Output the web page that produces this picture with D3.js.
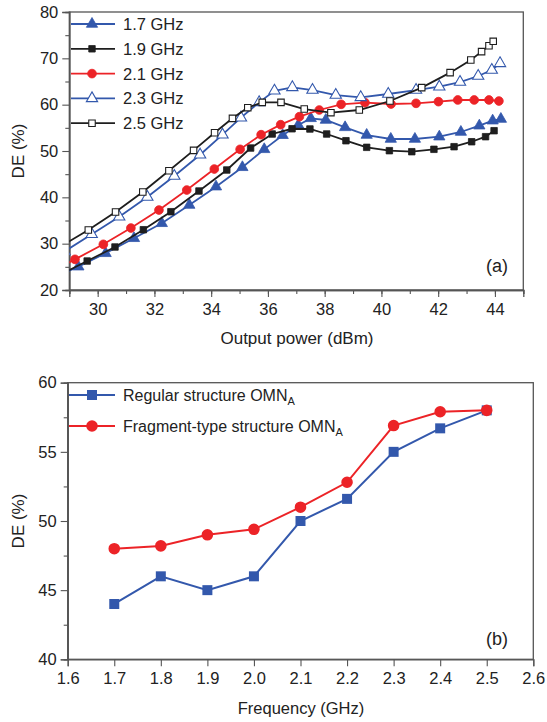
<!DOCTYPE html>
<html>
<head>
<meta charset="utf-8">
<script src="https://cdn.jsdelivr.net/npm/d3@7"></script>
<style>
	body { margin: 0; background: #fff; }
	svg { display: block; font-family: "Liberation Sans", Arial, sans-serif; }
	text { fill: #222; }
</style>
</head>
<body>
<div id="chart"></div>
<script>
//////////////////////////////
// DATA
//////////////////////////////

// (a) DE vs output power, [dBm, %]
const de17 = [[28.35,22.4],[29.32,25.03],[30.28,27.92],[31.28,31.16],[32.26,34.4],[33.23,38.34],[34.17,42.3],[35.1,46.48],[35.87,50.36],[36.52,53.4],[37.07,55.6],[37.51,57.05],[38.04,56.69],[38.72,55.1],[39.48,53.45],[40.33,52.59],[41.18,52.59],[42.04,53.09],[42.8,54.1],[43.45,55.46],[43.92,56.54],[44.21,56.9]]
const de19 = [[28.65,23.2],[29.63,26.25],[30.61,29.28],[31.61,33.01],[32.58,36.9],[33.57,41.36],[34.55,45.9],[35.39,50.64],[36.15,53.67],[36.85,54.8],[37.48,54.75],[38.07,53.67],[38.75,52.22],[39.48,50.79],[40.28,50.07],[41.07,49.85],[41.85,50.36],[42.56,50.93],[43.18,52.0],[43.67,53.09],[43.97,54.38]]
const de21 = [[28.22,23.5],[29.2,26.62],[30.2,29.86],[31.17,33.38],[32.16,37.26],[33.14,41.58],[34.11,46.11],[35.02,50.36],[35.76,53.52],[36.45,55.68],[37.11,57.41],[37.81,58.85],[38.58,60.08],[39.42,60.43],[40.34,60.14],[41.22,60.29],[42.01,60.65],[42.69,61.01],[43.27,61.01],[43.79,61.01],[44.14,60.79]]
const de23 = [[28.83,28.3],[29.79,32.02],[30.76,35.82],[31.75,40.07],[32.7,44.6],[33.61,49.2],[34.4,53.52],[35.05,57.19],[35.69,60.5],[36.23,63.0],[36.86,63.74],[37.57,63.16],[38.39,62.08],[39.27,61.58],[40.24,62.3],[41.22,63.16],[42.04,63.88],[42.77,64.89],[43.41,66.19],[43.89,67.48],[44.18,68.92]]
const de25 = [[28.75,29.6],[29.67,32.95],[30.63,36.83],[31.59,41.15],[32.51,45.75],[33.38,50.14],[34.12,53.95],[34.75,57.05],[35.29,59.35],[35.8,60.5],[36.46,60.5],[37.28,59.06],[38.22,58.27],[39.22,58.85],[40.3,60.79],[41.42,63.67],[42.42,66.91],[43.15,69.64],[43.53,71.44],[43.79,72.73],[43.94,73.67]]
const bandLabels = ["1.7 GHz", "1.9 GHz", "2.1 GHz", "2.3 GHz", "2.5 GHz"]

// (b) DE vs frequency
const freqs = [1.7, 1.8, 1.9, 2.0, 2.1, 2.2, 2.3, 2.4, 2.5]
const deRegular = [44, 46, 45, 46, 50, 51.6, 55, 56.7, 58]
const deFragment = [48, 48.2, 49, 49.4, 51, 52.8, 56.9, 57.9, 58]

//////////////////////////////
// SETUP
//////////////////////////////

const BLUE = "#3358ac"
const RED = "#ec2327"
const BLACK = "#1e1e1e"
const AXIS = "#555"
const TICK_FONT = 16.5

const svg = d3.select("#chart").append("svg").attr("width", 547).attr("height", 722)

const styleAxis = (g) => {
	g.selectAll(".domain").attr("stroke", AXIS).attr("stroke-width", 1.3)
	g.selectAll(".tick line").attr("stroke", AXIS).attr("stroke-width", 1.1)
	g.selectAll(".tick text").attr("font-size", TICK_FONT).attr("fill", "#222")
		.attr("font-family", '"Liberation Sans", Arial, sans-serif')
}

const frame = (x0, y0, x1, y1) => {
	svg.append("rect").attr("x", x0).attr("y", y0).attr("width", x1 - x0).attr("height", y1 - y0)
		.attr("fill", "none").attr("stroke", AXIS).attr("stroke-width", 1.3)
}

//////////////////////////////
// CHART (a)
//////////////////////////////

const chartA = () => {
	let x = d3.scaleLinear().domain([29, 45]).range([69.3, 523.3])
	let y = d3.scaleLinear().domain([20, 80]).range([290, 12])

	svg.append("defs").append("clipPath").attr("id", "clipA")
		.append("rect").attr("x", 69.3).attr("y", 12).attr("width", 454).attr("height", 278)

	frame(69.3, 12, 523.3, 290)

	let xMinor = svg.append("g").attr("transform", "translate(0,290)")
		.call(d3.axisBottom(x).tickValues(d3.range(29, 46, 1)).tickSize(4).tickFormat(""))
	let xAxis = svg.append("g").attr("transform", "translate(0,290)")
		.call(d3.axisBottom(x).tickValues(d3.range(30, 45, 2)).tickSize(7).tickPadding(6).tickFormat(d3.format("d")))
	let yMinor = svg.append("g").attr("transform", "translate(69.3,0)")
		.call(d3.axisLeft(y).tickValues(d3.range(25, 80, 10)).tickSize(4).tickFormat(""))
	let yAxis = svg.append("g").attr("transform", "translate(69.3,0)")
		.call(d3.axisLeft(y).tickValues(d3.range(20, 81, 10)).tickSize(7).tickPadding(4).tickFormat(d3.format("d")))
	;[xMinor, xAxis, yMinor, yAxis].forEach(styleAxis)

	svg.append("text").attr("x", 297).attr("y", 344).attr("text-anchor", "middle")
		.attr("font-size", 17).text("Output power (dBm)")
	svg.append("text").attr("transform", "translate(24,151) rotate(-90)").attr("text-anchor", "middle")
		.attr("font-size", 17).text("DE (%)")
	svg.append("text").attr("x", 497).attr("y", 272).attr("text-anchor", "middle")
		.attr("font-size", 18).text("(a)")

	let series = [
		{ data: de17, color: BLUE, type: d3.symbolTriangle, size: 55, fill: true },
		{ data: de19, color: BLACK, type: d3.symbolSquare, size: 42, fill: true },
		{ data: de21, color: RED, type: d3.symbolCircle, size: 60, fill: true },
		{ data: de23, color: BLUE, type: d3.symbolTriangle, size: 55, fill: false },
		{ data: de25, color: BLACK, type: d3.symbolSquare, size: 42, fill: false }
	]

	let line = d3.line().x((d) => x(d[0])).y((d) => y(d[1]))
	let plot = svg.append("g").attr("clip-path", "url(#clipA)")

	series.forEach((s) => {
		plot.append("path").datum(s.data).attr("d", line)
			.attr("fill", "none").attr("stroke", s.color).attr("stroke-width", 1.8)
		plot.selectAll(null).data(s.data).enter().append("path")
			.attr("d", d3.symbol().type(s.type).size(s.size))
			.attr("transform", (d) => "translate(" + x(d[0]) + "," + y(d[1]) + ")")
			.attr("fill", s.fill ? s.color : "#fff")
			.attr("stroke", s.color).attr("stroke-width", s.fill ? 0.8 : 1.1)
	})

	// legend
	let leg = svg.append("g")
	series.forEach((s, i) => {
		let ly = 24 + i * 24.8
		leg.append("line").attr("x1", 71).attr("x2", 115).attr("y1", ly).attr("y2", ly)
			.attr("stroke", s.color).attr("stroke-width", 1.8)
		leg.append("path").attr("d", d3.symbol().type(s.type).size(s.size))
			.attr("transform", "translate(92," + ly + ")")
			.attr("fill", s.fill ? s.color : "#fff")
			.attr("stroke", s.color).attr("stroke-width", s.fill ? 0.8 : 1.1)
		leg.append("text").attr("x", 123).attr("y", ly + 6).attr("font-size", 16.5).text(bandLabels[i])
	})
}

//////////////////////////////
// CHART (b)
//////////////////////////////

const chartB = () => {
	let x = d3.scaleLinear().domain([1.6, 2.6]).range([67.7, 533.3])
	let y = d3.scaleLinear().domain([40, 60]).range([659.3, 382.7])

	frame(67.7, 382.7, 533.3, 659.3)

	let xAxis = svg.append("g").attr("transform", "translate(0,659.3)")
		.call(d3.axisBottom(x).tickValues(d3.range(16, 27).map((d) => d / 10)).tickSize(7).tickPadding(6).tickFormat(d3.format(".1f")))
	let yMinor = svg.append("g").attr("transform", "translate(67.7,0)")
		.call(d3.axisLeft(y).tickValues([42.5, 47.5, 52.5, 57.5]).tickSize(4).tickFormat(""))
	let yAxis = svg.append("g").attr("transform", "translate(67.7,0)")
		.call(d3.axisLeft(y).tickValues([40, 45, 50, 55, 60]).tickSize(7).tickPadding(4).tickFormat(d3.format("d")))
	;[xAxis, yMinor, yAxis].forEach(styleAxis)

	svg.append("text").attr("x", 301).attr("y", 714).attr("text-anchor", "middle")
		.attr("font-size", 16.5).text("Frequency (GHz)")
	svg.append("text").attr("transform", "translate(24,521) rotate(-90)").attr("text-anchor", "middle")
		.attr("font-size", 17).text("DE (%)")
	svg.append("text").attr("x", 497).attr("y", 645).attr("text-anchor", "middle")
		.attr("font-size", 18).text("(b)")

	let series = [
		{ values: deRegular, color: BLUE, type: d3.symbolSquare, size: 100, name: "Regular structure OMN" },
		{ values: deFragment, color: RED, type: d3.symbolCircle, size: 105, name: "Fragment-type structure OMN" }
	]

	let line = d3.line().x((d, i) => x(freqs[i])).y((d) => y(d))

	series.forEach((s) => {
		svg.append("path").datum(s.values).attr("d", line)
			.attr("fill", "none").attr("stroke", s.color).attr("stroke-width", 2)
		svg.selectAll(null).data(s.values).enter().append("path")
			.attr("d", d3.symbol().type(s.type).size(s.size))
			.attr("transform", (d, i) => "translate(" + x(freqs[i]) + "," + y(d) + ")")
			.attr("fill", s.color)
	})

	series.forEach((s, i) => {
		let ly = 395 + i * 31
		svg.append("line").attr("x1", 69).attr("x2", 115).attr("y1", ly).attr("y2", ly)
			.attr("stroke", s.color).attr("stroke-width", 2)
		svg.append("path").attr("d", d3.symbol().type(s.type).size(s.size))
			.attr("transform", "translate(92," + ly + ")").attr("fill", s.color)
		let t = svg.append("text").attr("x", 123).attr("y", ly + 6).attr("font-size", 16).text(s.name)
		t.append("tspan").attr("font-size", 11).attr("dy", 4).text("A")
	})
}

//////////////////////////////
// Document Ready
//////////////////////////////

chartA()
chartB()
</script>
</body>
</html>
